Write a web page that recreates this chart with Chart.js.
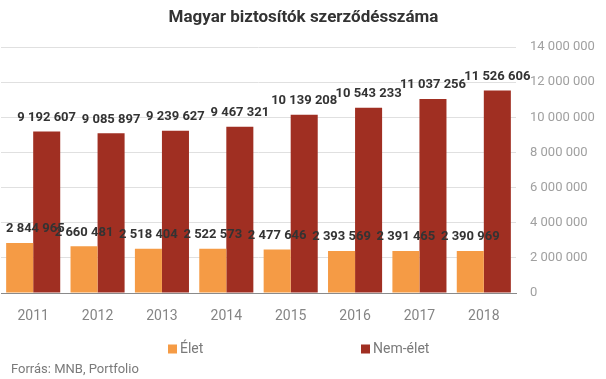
<!DOCTYPE html>
<html>
<head>
<meta charset="utf-8">
<script src="https://cdn.jsdelivr.net/npm/chart.js@4"></script>
<style>
  html, body { margin: 0; padding: 0; background: #fff; }
  #wrap { width: 606px; height: 379px; position: relative; }
</style>
</head>
<body>
<div id="wrap"><canvas id="c" width="606" height="379"></canvas></div>
<script>
const categories = ['2011', '2012', '2013', '2014', '2015', '2016', '2017', '2018'];
const eletValues = [2844965, 2660481, 2518404, 2522573, 2477646, 2393569, 2391465, 2390969];
const nemEletValues = [9192607, 9085897, 9239627, 9467321, 10139208, 10543233, 11037256, 11526606];
const seriesNames = ['Élet', 'Nem-élet'];
const titleText = 'Magyar biztosítók szerződésszáma';
const sourceText = 'Forrás: MNB, Portfolio';
const yMax = 14000000;
const yStep = 2000000;

function fmt(v) {
  return String(Math.round(v)).replace(/\B(?=(\d{3})+(?!\d))/g, ' ');
}

const FONT = 'Roboto, "Liberation Sans", sans-serif';

const valueLabels = {
  id: 'valueLabels',
  afterDatasetsDraw(chart) {
    const ctx = chart.ctx;
    ctx.save();
    ctx.font = 'bold 13px ' + FONT;
    ctx.fillStyle = '#333333';
    ctx.textAlign = 'center';
    ctx.textBaseline = 'middle';
    chart.data.datasets.forEach((ds, di) => {
      const meta = chart.getDatasetMeta(di);
      meta.data.forEach((el, i) => {
        const txt = fmt(ds.data[i]);
        const w = ctx.measureText(txt).width;
        let x = el.x;
        const minLeft = chart.chartArea.left + 5;
        if (x - w / 2 < minLeft) x = minLeft + w / 2;
        ctx.fillText(txt, x, el.y - 14);
      });
    });
    ctx.restore();
  }
};

const customLegend = {
  id: 'customLegend',
  afterDraw(chart) {
    const ctx = chart.ctx;
    ctx.save();
    const pos = [168, 361];
    const y = 349;
    ctx.font = '14px ' + FONT;
    ctx.textBaseline = 'middle';
    ctx.textAlign = 'left';
    chart.data.datasets.forEach((ds, di) => {
      const x = pos[di];
      ctx.fillStyle = ds.backgroundColor;
      ctx.fillRect(x, y - 4.5, 9, 9);
      ctx.fillStyle = '#7a7a7a';
      ctx.fillText(ds.label, x + 12, y);
    });
    ctx.font = '13px ' + FONT;
    ctx.fillStyle = '#7a7a7a';
    ctx.fillText(sourceText, 11, 370);
    ctx.restore();
  }
};

new Chart(document.getElementById('c'), {
  type: 'bar',
  data: {
    labels: categories,
    datasets: [
      { label: seriesNames[0], data: eletValues, backgroundColor: '#F59B45' },
      { label: seriesNames[1], data: nemEletValues, backgroundColor: '#A02F22' }
    ]
  },
  options: {
    responsive: false,
    animation: false,
    devicePixelRatio: 1,
    layout: { padding: { left: 1, right: 0, top: 0, bottom: 46 } },
    datasets: { bar: { categoryPercentage: 0.84, barPercentage: 1.0 } },
    plugins: {
      legend: { display: false },
      tooltip: { enabled: false },
      title: {
        display: true,
        text: titleText,
        color: '#333333',
        font: { family: FONT, size: 17, weight: 'bold', lineHeight: 1.2 },
        padding: { top: 8, bottom: 18.6 }
      }
    },
    scales: {
      x: {
        grid: { display: false },
        border: { display: true, color: '#8a8a8a', width: 1 },
        ticks: { color: '#858585', font: { family: FONT, size: 14 }, padding: 7, maxRotation: 0 },
        afterFit(s) { s.height = 40; }
      },
      y: {
        position: 'right',
        min: 0,
        max: yMax,
        grid: { color: '#e0e0e0', drawTicks: false, lineWidth: 1 },
        border: { display: false },
        ticks: {
          stepSize: yStep,
          color: '#a0a0a0',
          font: { family: FONT, size: 13 },
          padding: 14,
          callback: (v) => fmt(v)
        },
        afterFit(s) { s.width = 90; }
      }
    }
  },
  plugins: [valueLabels, customLegend]
});
</script>
</body>
</html>
